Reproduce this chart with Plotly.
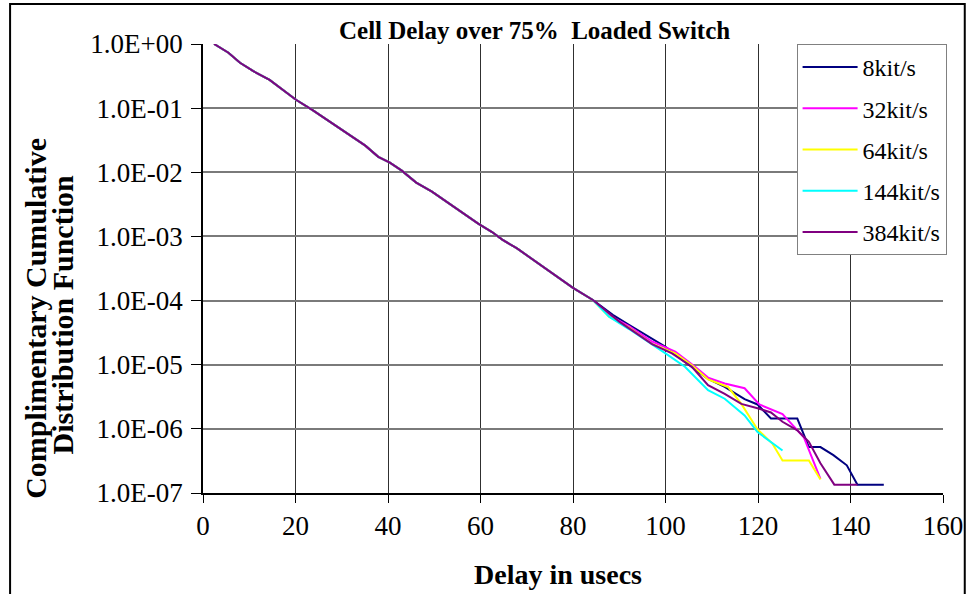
import plotly.graph_objects as go

# ---- data ----
head_x = [2.4, 5.5, 8.0, 10.8, 14.4, 20.1, 23.7, 27.9, 32.9, 35.1, 37.9, 40.4, 42.9,
          46.1, 49.5, 52.5, 55.7, 59.5, 62.5, 64.7, 67.9, 70.7, 73.6, 77.1, 80.0, 84.3]
head_y = [1.0, 0.73, 0.51, 0.38, 0.275, 0.135, 0.093, 0.058, 0.034, 0.026, 0.0174, 0.0141, 0.0107,
          0.0069, 0.0050, 0.00355, 0.0024, 0.00158, 0.00117, 0.00089, 0.00065, 0.00047, 0.00034,
          0.00022, 0.000158, 0.000102]

k8_x = [88.6, 92.1, 95.7, 100.0, 104.2, 109.2, 112.8, 117.1, 119.9, 122.8, 128.5, 131.0,
        133.5, 136.3, 139.2, 141.5, 147.2]
k8_y = [6.0e-5, 4.2e-5, 2.9e-5, 1.9e-5, 1.1e-5, 6.0e-6, 4.5e-6, 2.9e-6, 2.4e-6, 1.45e-6,
        1.45e-6, 5.2e-7, 5.2e-7, 3.9e-7, 2.7e-7, 1.35e-7, 1.35e-7]

k32_x = [87.8, 92.1, 97.1, 102.1, 106.4, 109.2, 112.8, 117.1, 120.3, 125.3, 129.9, 133.5]
k32_y = [5.9e-5, 4.0e-5, 2.3e-5, 1.6e-5, 9.3e-6, 6.3e-6, 5.1e-6, 4.3e-6, 2.4e-6, 1.7e-6,
         7.4e-7, 1.66e-7]

k64_x = [87.8, 92.1, 97.1, 102.1, 105.7, 109.2, 113.5, 116.4, 119.9, 123.1, 125.3, 131.0, 133.5]
k64_y = [5.6e-5, 3.8e-5, 2.1e-5, 1.5e-5, 9.8e-6, 5.9e-6, 4.5e-6, 2.45e-6, 9.8e-7, 5.9e-7,
         3.2e-7, 3.2e-7, 1.62e-7]

k144_x = [87.8, 92.1, 97.1, 100.0, 104.2, 109.2, 112.8, 117.1, 119.9, 125.3]
k144_y = [5.6e-5, 3.6e-5, 2.1e-5, 1.5e-5, 9.3e-6, 4.0e-6, 2.95e-6, 1.62e-6, 8.9e-7, 4.6e-7]

k384_x = [90.0, 97.1, 101.4, 105.7, 109.2, 112.8, 116.4, 119.9, 122.8, 125.3, 128.5, 131.0,
          133.5, 136.5, 141.5]
k384_y = [4.7e-5, 2.1e-5, 1.5e-5, 9.3e-6, 4.8e-6, 3.5e-6, 2.45e-6, 2.1e-6, 1.8e-6, 1.29e-6,
          9.5e-7, 6.3e-7, 2.9e-7, 1.35e-7, 1.35e-7]

series_names = ["8kit/s", "32kit/s", "64kit/s", "144kit/s", "384kit/s"]
series_colors = ["#000080", "#FF00FF", "#FFFF00", "#00FFFF", "#800080"]
series_x = [k8_x, k32_x, k64_x, k144_x, k384_x]
series_y = [k8_y, k32_y, k64_y, k144_y, k384_y]

x_ticks = [0, 20, 40, 60, 80, 100, 120, 140, 160]
y_tickvals = [1e0, 1e-1, 1e-2, 1e-3, 1e-4, 1e-5, 1e-6, 1e-7]
y_ticktext = ["1.0E+00", "1.0E-01", "1.0E-02", "1.0E-03", "1.0E-04", "1.0E-05", "1.0E-06", "1.0E-07"]

FONT = "Liberation Serif"

fig = go.Figure()
for name, color, sx, sy in zip(series_names, series_colors, series_x, series_y):
    fig.add_trace(go.Scatter(
        x=head_x + sx, y=head_y + sy, mode="lines", name=name, legendgroup=name,
        line=dict(color=color, width=2),
    ))

L, R, T, B = 203, 24, 44, 101
W, H = 975, 594
pw, ph = W - L - R, H - T - B


def px(xp):
    return (xp - L) / pw


def py(yp):
    return (H - B - yp) / ph


fig.update_layout(
    width=W, height=H,
    margin=dict(l=L, r=R, t=T, b=B, pad=0),
    paper_bgcolor="white", plot_bgcolor="white",
    font=dict(family=FONT, color="black", size=27),
    showlegend=True,
    legend=dict(
        x=px(803), y=1.0, xanchor="left", yanchor="top",
        bgcolor="white", bordercolor="#808080", borderwidth=1,
        font=dict(family=FONT, size=24, color="black"),
        traceorder="grouped", tracegroupgap=7,
        itemwidth=55,
    ),
    xaxis=dict(
        range=[0, 160], tickvals=x_ticks, ticks="outside", ticklen=8, tickcolor="black",
        showline=True, linecolor="black", linewidth=1.5,
        showgrid=True, gridcolor="#303030", gridwidth=1,
        tickfont=dict(family=FONT, size=27, color="black"), zeroline=False,
    ),
    yaxis=dict(
        type="log", range=[-7, 0], tickvals=y_tickvals, ticktext=y_ticktext,
        ticks="outside", ticklen=10, tickcolor="black",
        showline=True, linecolor="black", linewidth=1.5,
        showgrid=True, gridcolor="#7a7a7a", gridwidth=1.5,
        tickfont=dict(family=FONT, size=27, color="black"), ticklabelstandoff=3,
    ),
)

fig.add_annotation(text="<b>Cell Delay over 75%\u00a0 Loaded Switch</b>", xref="paper", yref="paper",
                   x=px(538), y=py(30), xanchor="center", yanchor="middle", showarrow=False,
                   font=dict(family=FONT, size=25, color="black"))
fig.add_annotation(text="<b>Delay in usecs</b>", xref="paper", yref="paper",
                   x=px(562), y=py(574), xanchor="center", yanchor="middle", showarrow=False,
                   font=dict(family=FONT, size=28, color="black"))
fig.add_annotation(text="<b>Complimentary Cumulative</b>", xref="paper", yref="paper",
                   x=px(33), y=py(318), xanchor="center", yanchor="middle", showarrow=False,
                   textangle=-90, font=dict(family=FONT, size=30, color="black"))
fig.add_annotation(text="<b>Distribution Function</b>", xref="paper", yref="paper",
                   x=px(60), y=py(315), xanchor="center", yanchor="middle", showarrow=False,
                   textangle=-90, font=dict(family=FONT, size=30, color="black"))

# outer chart frame
fig.add_shape(type="rect", xref="paper", yref="paper",
              x0=px(8), x1=px(973), y0=py(605), y1=py(4),
              line=dict(color="black", width=2), fillcolor="rgba(0,0,0,0)", layer="below")

fig.write_html("out.html", config={"displayModeBar": False},
               post_script="document.body.style.margin='0';document.body.style.overflow='hidden';")
